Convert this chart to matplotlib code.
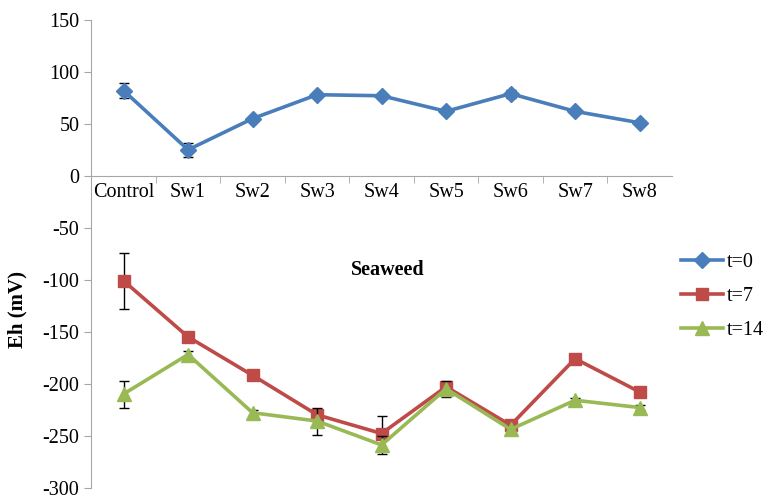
import numpy as np
import matplotlib
matplotlib.use('Agg')
import matplotlib.pyplot as plt
from matplotlib.lines import Line2D

plt.rcParams['font.family'] = ['Liberation Serif', 'DejaVu Serif']
plt.rcParams['axes.unicode_minus'] = False

categories = ['Control', 'Sw1', 'Sw2', 'Sw3', 'Sw4', 'Sw5', 'Sw6', 'Sw7', 'Sw8']
t0 = [82, 25, 55, 78, 77, 62, 79, 62, 51]
t0_err = [7, 7, 2, 2, 2, 2, 4, 1, 1]
t7 = [-101, -155, -192, -230, -248, -203, -240, -176, -208]
t7_err = [27, 2, 2, 3, 17, 3, 2, 2, 2]
t14 = [-210, -172, -228, -236, -259, -205, -244, -216, -223]
t14_err = [13, 3, 3, 13, 9, 8, 3, 2, 2]

x = np.arange(len(categories))
grey = '#a6a6a6'
fs = 14.5

fig = plt.figure(figsize=(7.67, 4.97), dpi=100)
ax = fig.add_axes([0.119, 0.019, 0.757, 0.941])

series = [(t0, t0_err, '#4a7ebb', 'D', 8, 't=0'),
          (t7, t7_err, '#be4b48', 's', 9, 't=7'),
          (t14, t14_err, '#98b954', '^', 9.5, 't=14')]
handles = []
for i, (vals, err, col, mk, ms, lab) in enumerate(series):
    ax.errorbar(x, vals, yerr=err, color=col, lw=2.6, marker=mk, ms=ms,
                ecolor='black', elinewidth=1, capsize=3.5, zorder=3 + i)
    handles.append(Line2D([], [], color=col, lw=2.6, marker=mk, ms=ms, label=lab))

ax.set_xlim(-0.5, 8.5)
ax.set_ylim(-300, 150)
ax.set_yticks(np.arange(-300, 151, 50))
ax.set_xticks(x)
ax.set_xticklabels(categories)
ax.set_xticks(np.arange(0.5, 8, 1), minor=True)
ax.tick_params(axis='x', which='major', length=0, labelsize=fs, pad=5)
ax.tick_params(axis='x', which='minor', length=5, color=grey, direction='out')
ax.tick_params(axis='y', length=5, color=grey, labelsize=fs)

ax.spines['top'].set_visible(False)
ax.spines['right'].set_visible(False)
ax.spines['left'].set_color(grey)
ax.spines['bottom'].set_color(grey)
ax.spines['bottom'].set_position(('data', 0))

ax.set_ylabel('Eh (mV)', fontsize=15, fontweight='bold')
ax.yaxis.set_label_coords(-0.110, 0.38)
ax.text(4.1, -91, 'Seaweed', fontsize=fs, fontweight='bold', ha='center', va='center')

fig.legend(handles=handles, loc='center left', bbox_to_anchor=(0.877, 0.403),
           frameon=False, fontsize=fs, handlelength=2.1, handletextpad=0.2,
           labelspacing=0.75, borderaxespad=0)

fig.savefig('out.png', dpi=100)
